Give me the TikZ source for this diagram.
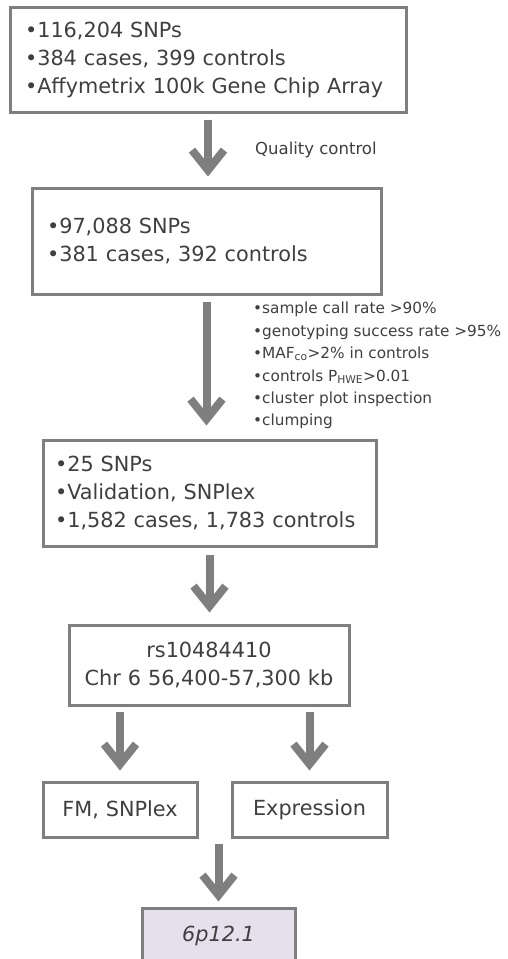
\documentclass[tikz,border=0pt]{standalone}
\usepackage{fontspec}
\setmainfont{DejaVu Sans}
\usetikzlibrary{arrows.meta}
\definecolor{boxgray}{HTML}{7F7F7F}
\definecolor{txtgray}{HTML}{3F3F3F}
\definecolor{lilac}{HTML}{E5E0EC}
\tikzset{
  box/.style={draw=boxgray, line width=3pt, text=txtgray, inner xsep=0pt, inner ysep=0pt,
    font=\fontsize{20.8}{28}\selectfont},
  flow/.style={draw=boxgray, line width=8pt, -{Straight Barb[length=20pt, width=32pt]}},
  note/.style={text=txtgray, inner sep=0pt, align=left, font=\fontsize{15.3}{22.4}\selectfont}
}
\begin{document}
\begin{tikzpicture}[x=1pt, y=-1pt]
    \useasboundingbox (0,0) rectangle (508,959);
    \node[box, align=left, text width=366pt, inner xsep=15pt, minimum height=105pt] (chip) at (208,59.5)
        {•116,204 SNPs\\•384 cases, 399 controls\\•Affymetrix 100k Gene Chip Array};
    \node[box, align=left, text width=319pt, inner xsep=15pt, minimum height=106pt] (qc) at (206.5,241)
        {•97,088 SNPs\\•381 cases, 392 controls};
    \node[box, align=left, text width=309pt, inner xsep=12pt, minimum height=106pt] (valid) at (209.5,493)
        {•25 SNPs\\•Validation, SNPlex\\•1,582 cases, 1,783 controls};
    \node[box, align=center, text width=280pt, minimum height=80pt] (locus) at (209,665)
        {rs10484410\\Chr 6 56,400-57,300 kb};
    \node[box, align=center, text width=154pt, minimum height=55pt] (fm) at (120,809.5) {FM, SNPlex};
    \node[box, align=center, text width=155pt, minimum height=55pt] (expr) at (309.5,809.5) {Expression};
    \node[box, fill=lilac, align=center, text width=153pt, minimum height=55pt] (band) at (218.5,935.5)
        {\itshape 6p12.1};
    \draw[flow, shorten <=6pt, shorten >=10pt] (chip.south) -- (chip.south |- qc.north);
    \draw[flow, shorten <=6pt, shorten >=13pt] (qc.south) -- (qc.south |- valid.north);
    \draw[flow, shorten <=7pt, shorten >=11pt] (valid.south) -- (valid.south |- locus.north);
    \draw[flow, shorten <=5pt, shorten >=10pt] (locus.south -| fm.north) -- (fm.north);
    \draw[flow, shorten <=5pt, shorten >=10pt] (locus.south -| expr.north) -- (expr.north);
    \draw[flow, shorten <=5pt, shorten >=5pt] (fm.south -| band.north) -- (band.north);
    \node[note, anchor=west, font=\fontsize{16.5}{22}\selectfont] (qclabel) at (255,150) {Quality control};
    \node[note, anchor=north west] (filters) at (253,302)
        {•sample call rate >90\%\\•genotyping success rate >95\%\\•MAF\textsubscript{co}>2\% in controls\\
         •controls P\textsubscript{HWE}>0.01\\•cluster plot inspection\\•clumping};
\end{tikzpicture}
\end{document}
